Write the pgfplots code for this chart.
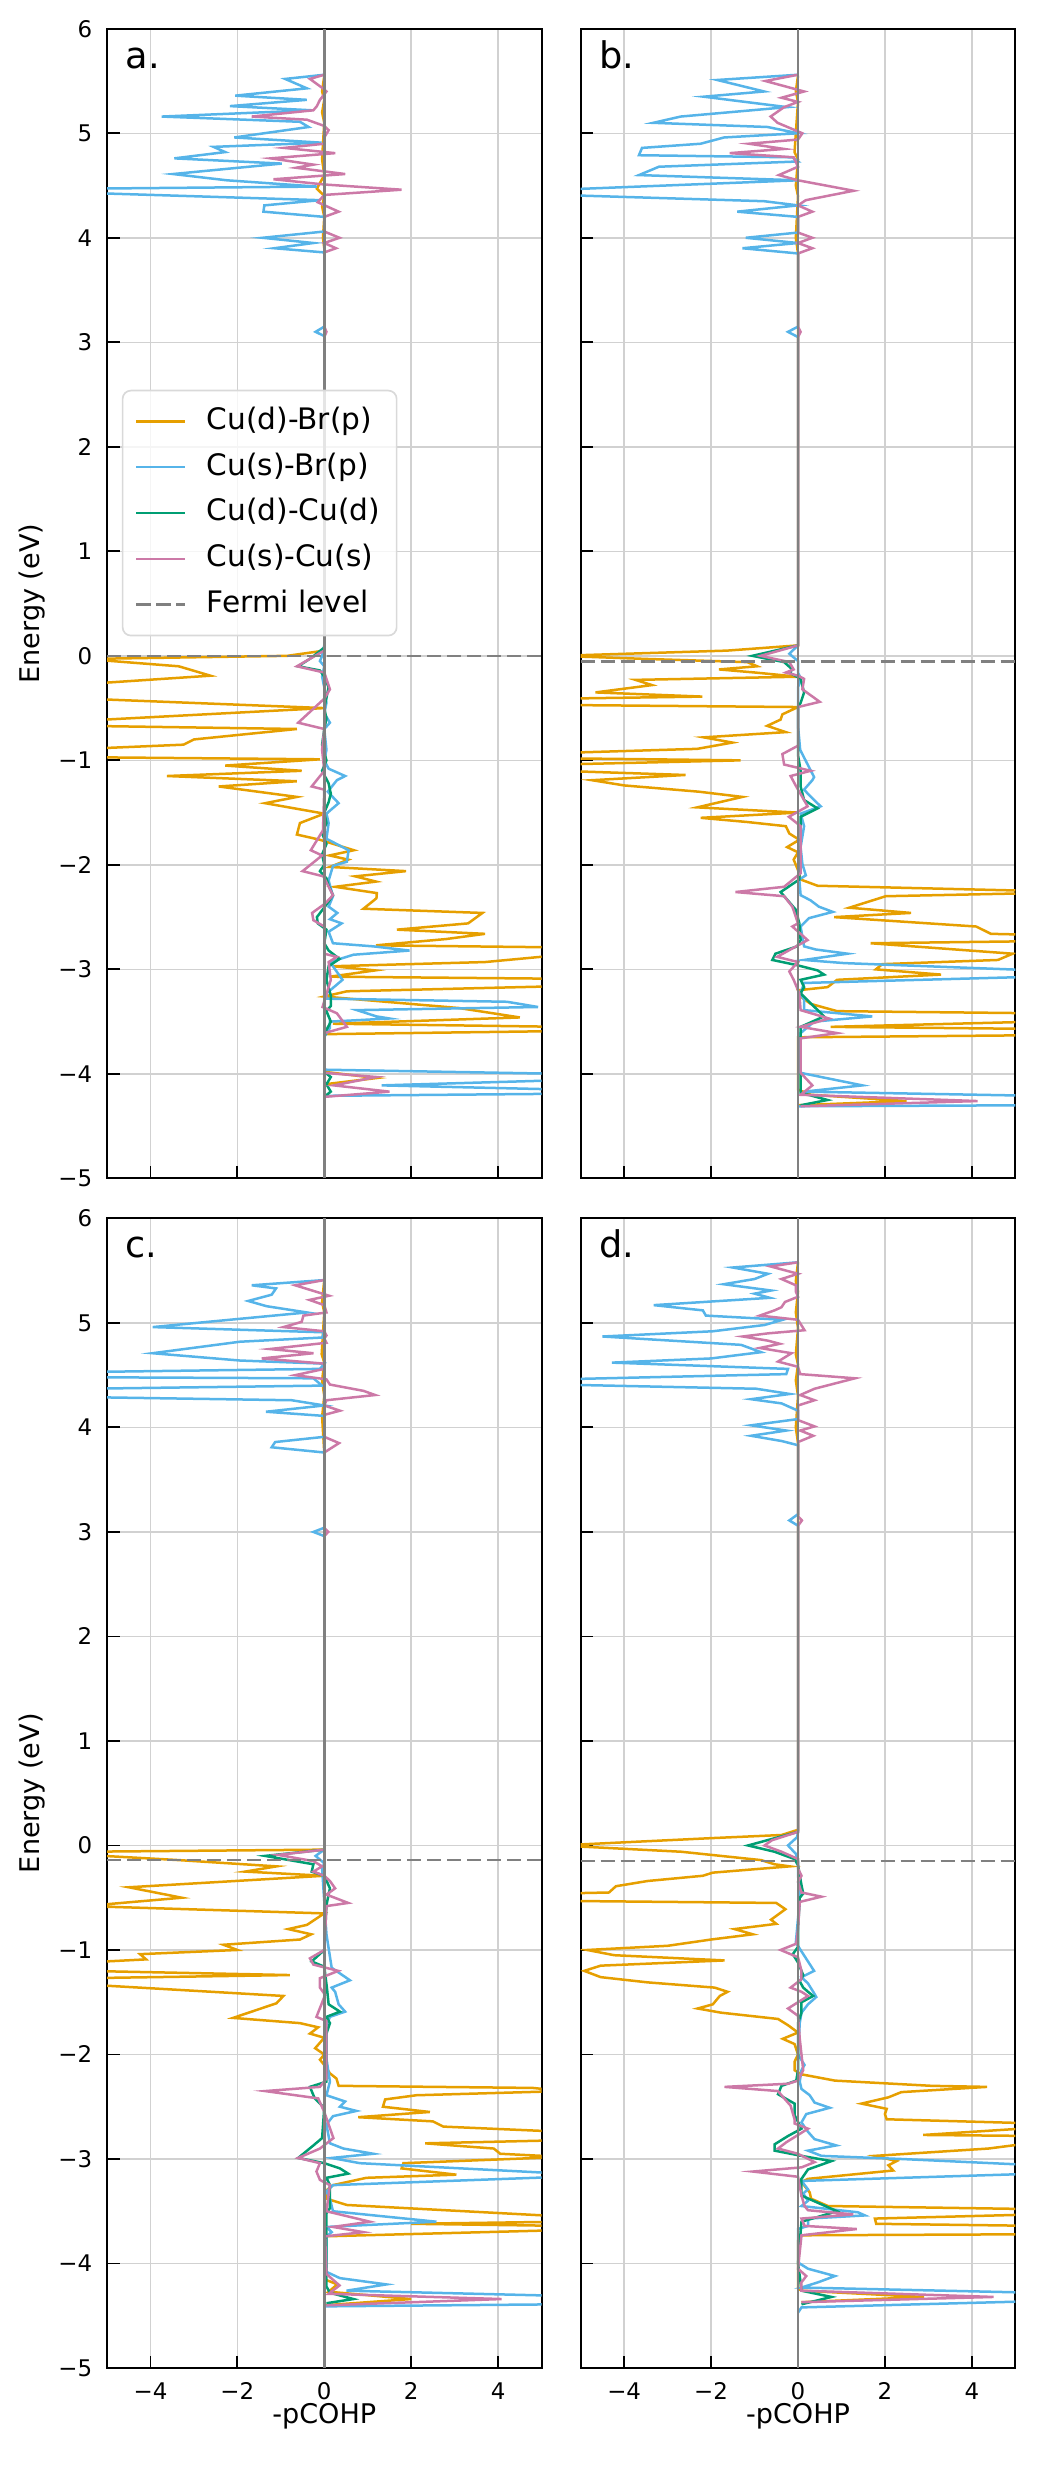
\documentclass[border=0pt]{standalone}
\usepackage{fontspec}
\setmainfont{DejaVu Sans}
\usepackage{pgfplots}
\pgfplotsset{compat=1.18}
\usepgfplotslibrary{groupplots}

\definecolor{cdbr}{HTML}{E69F00}
\definecolor{csbr}{HTML}{56B4E9}
\definecolor{cdcd}{HTML}{009E73}
\definecolor{cscs}{HTML}{CC79A7}

\pgfplotsset{
  cohp/.style={
    scale only axis, width=104.3pt, height=275.9pt,
    xmin=-5, xmax=5, ymin=-5, ymax=6,
    xtick={-4,-2,0,2,4}, ytick={-5,...,6},
    xtick pos=bottom, ytick pos=left, tick align=inside,
    major tick length=3pt,
    every tick/.style={black, line width=0.45pt},
    axis line style={line width=0.5pt},
    grid=major, grid style={line width=0.35pt, black!18},
    tick label style={font=\fontsize{5.5}{6.6}\selectfont},
    label style={font=\fontsize{6.5}{7.8}\selectfont},
    every axis plot/.append style={line width=0.6pt},
    legend image code/.code={\draw[#1] (0pt,0pt) -- (11.6pt,0pt);},
    ylabel style={at={(axis description cs:-0.173,0.5)}, anchor=center},
    xlabel style={at={(axis description cs:0.5,-0.0423)}, anchor=center},
  },
  xnums/.style={xticklabels={−4,−2,0,2,4}},
  xnone/.style={xticklabels={}},
  ynums/.style={yticklabels={−5,−4,−3,−2,−1,0,1,2,3,4,5,6}},
  ynone/.style={yticklabels={}},
  zeroline/.style={black!50, line width=0.7pt, forget plot},
  fermi/.style={black!50, dash pattern=on 3.4pt off 1.4pt, line width=0.6pt},
}
\newcommand{\plab}[1]{\node[anchor=base west, font=\fontsize{8.8}{10}\selectfont, inner sep=0pt] at (rel axis cs:0.041,0.9656) {#1};}

\begin{document}
\begin{tikzpicture}
\begin{groupplot}[group style={group size=2 by 2, horizontal sep=9.4pt, vertical sep=9.6pt}, cohp]

% ---------- a ----------
\nextgroupplot[xnone, ynums, ylabel={Energy (eV)},
  legend cell align=left,
  legend style={at={(0.034,0.686)}, anchor=north west, font=\fontsize{7.1}{8.5}\selectfont,
    draw=black!15, rounded corners=2pt, fill=white, fill opacity=0.8, text opacity=1,
    row sep=2.2pt, inner xsep=3pt, inner ysep=3pt,
    nodes={inner sep=1pt, text height=5.3pt, text depth=1.5pt},
    /tikz/every odd column/.append style={column sep=4pt}}]
\coordinate (tl) at (rel axis cs:0,1);
\addplot[cdbr] coordinates {
(0,5.55)(-0.05,5.4)(0,5.32)(-0.05,5.2)(0,5.1)(-0.03,4.9)(-0.05,4.75)(0,4.6)(-0.17,4.47)(0,4.4)(-0.05,4.3)(0,4.2)(-0.03,4.0)(0,3.9)
(0,0.05)(-0.85,0.0)(-5.5,-0.03)(-3.35,-0.1)(-2.62,-0.19)(-5.5,-0.27)(-5.5,-0.41)(0,-0.5)(-5.5,-0.62)(-5.5,-0.67)(-0.63,-0.7)(-3.0,-0.8)(-3.24,-0.85)(-5.5,-0.89)(-5.5,-0.97)(-0.1,-0.99)(-2.28,-1.05)(-0.52,-1.1)(-3.62,-1.15)(-0.63,-1.2)(-2.43,-1.25)(-0.63,-1.35)(-1.36,-1.41)(0,-1.51)(-0.56,-1.6)(-0.63,-1.71)(-0.1,-1.76)(0.68,-1.86)(0.12,-1.91)(0.55,-1.95)(0.13,-2.02)(1.88,-2.06)(0.71,-2.11)(1.19,-2.16)(0.25,-2.21)(1.21,-2.27)(1.2,-2.32)(0.9,-2.42)(3.64,-2.46)(3.31,-2.56)(1.67,-2.62)(3.7,-2.66)(2.8,-2.71)(1.19,-2.77)(5.5,-2.79)(5.5,-2.86)(3.7,-2.93)(0.2,-2.97)(1.17,-3.01)(0.13,-3.07)(5.5,-3.09)(5.5,-3.16)(0.52,-3.21)(0,-3.26)(3.1,-3.37)(4.5,-3.46)(0.2,-3.52)(5.5,-3.55)(5.5,-3.59)(0,-3.62)(0,-3.98)(1.2,-4.04)(0,-4.1)(0,-4.22)
};
\addlegendentry{Cu(d)-Br(p)}
\addplot[csbr] coordinates {
(0,5.56)(-0.9,5.52)(-0.4,5.43)(-2.05,5.36)(-0.4,5.32)(-2.17,5.26)(-0.29,5.22)(-3.74,5.16)(-0.56,5.11)(-0.36,5.06)(-2.07,4.96)(-0.06,4.91)(-2.55,4.87)(-2.28,4.82)(-3.45,4.76)(-0.98,4.71)(-3.48,4.61)(-2.24,4.55)(-0.17,4.49)(-5.5,4.47)(-5.5,4.43)(-0.1,4.36)(-1.38,4.31)(-1.4,4.25)(0,4.2)(0,4.06)(-1.42,4.0)(-0.25,3.95)(-1.15,3.9)(0,3.86)(0,3.15)(-0.2,3.1)(0,3.06)
(0,0.1)(-0.05,0.0)(-0.1,-0.05)(0,-0.1)(-0.05,-0.2)(0,-0.3)(0.05,-0.45)(0,-0.55)(0.13,-0.64)(0,-0.7)(0.05,-0.9)(0,-1.0)(0.1,-1.08)(0.48,-1.15)(0.29,-1.19)(0.08,-1.3)(0.33,-1.41)(0.05,-1.51)(0.1,-1.6)(0.05,-1.75)(0.56,-1.86)(0.52,-1.97)(0.2,-2.01)(0.1,-2.15)(0.2,-2.3)(0.1,-2.4)(0.3,-2.46)(0.13,-2.52)(0.4,-2.56)(0.1,-2.64)(0.2,-2.75)(1.13,-2.78)(1.96,-2.82)(0.67,-2.86)(0.13,-2.93)(0.42,-3.1)(0.05,-3.23)(0.05,-3.28)(4.2,-3.31)(4.92,-3.36)(0.75,-3.39)(1.2,-3.45)(1.5,-3.47)(0.13,-3.5)(0.13,-3.56)(0.05,-3.61)(0,-3.65)(0,-3.96)(5.5,-4.0)(5.5,-4.06)(1.32,-4.11)(5.5,-4.15)(5.5,-4.19)(0,-4.21)
};
\addlegendentry{Cu(s)-Br(p)}
\addplot[cdcd] coordinates {
(0,0.08)(-0.3,-0.02)(-0.6,-0.1)(-0.1,-0.14)(0,-0.2)(0.1,-0.3)(0.05,-0.4)(0,-0.5)(0.05,-0.6)(0,-0.7)(-0.05,-0.85)(0.05,-1.0)(-0.05,-1.1)(0.1,-1.22)(0.15,-1.32)(0.1,-1.4)(0,-1.5)(0.05,-1.6)(-0.05,-1.7)(0.05,-1.8)(-0.05,-1.9)(0,-2.0)(-0.1,-2.06)(0.05,-2.13)(0.1,-2.2)(0.2,-2.29)(0.05,-2.38)(-0.17,-2.5)(-0.15,-2.56)(0.05,-2.62)(0,-2.75)(0.1,-2.82)(0.35,-2.9)(0.1,-2.97)(0.05,-3.1)(0.15,-3.25)(0.15,-3.35)(0.05,-3.4)(0.15,-3.5)(0.05,-3.58)(0,-3.65)(0,-3.98)(0.15,-4.03)(0.05,-4.1)(0.15,-4.17)(0,-4.22)
};
\addlegendentry{Cu(d)-Cu(d)}
\addplot[cscs] coordinates {
(0,5.56)(-0.33,5.52)(0,5.42)(0.05,5.4)(-0.1,5.32)(-0.17,5.26)(-0.25,5.22)(-1.67,5.16)(-0.4,5.13)(0,5.07)(0.1,5.03)(0,4.96)(0,4.9)(-0.92,4.86)(0.25,4.81)(-1.23,4.76)(-0.25,4.7)(-0.65,4.67)(0.48,4.61)(-1.17,4.56)(0,4.51)(1.78,4.46)(0,4.41)(-0.15,4.34)(0.33,4.25)(0,4.2)(0,4.06)(0.35,4.0)(0,3.95)(0.27,3.9)(0,3.86)(0,3.15)(0.05,3.1)(0,3.05)
(0,0.05)(-0.63,-0.1)(0,-0.16)(0.13,-0.32)(0,-0.41)(-0.6,-0.64)(0,-0.7)(-0.05,-0.9)(0,-1.1)(-0.29,-1.25)(0,-1.28)(-0.03,-1.67)(-0.31,-1.86)(-0.05,-1.91)(-0.5,-2.06)(-0.02,-2.11)(0.2,-2.29)(0.02,-2.37)(-0.28,-2.46)(-0.25,-2.53)(0,-2.59)(0,-2.85)(0.29,-2.88)(0.1,-2.93)(0.15,-3.1)(-0.04,-3.36)(0.29,-3.42)(0.52,-3.55)(0,-3.61)(0,-3.99)(1.2,-4.03)(0.22,-4.11)(1.5,-4.17)(0,-4.22)
};
\addlegendentry{Cu(s)-Cu(s)}
\addplot[fermi] coordinates {(-5,0) (5,0)};
\addlegendentry{Fermi level}
\addplot[zeroline] coordinates {(0,-5) (0,6)};
\plab{a.}

% ---------- b ----------
\nextgroupplot[xnone, ynone]
\addplot[cdbr] coordinates {
(0,5.55)(-0.05,5.4)(0,5.3)(-0.05,5.0)(-0.08,4.82)(0,4.75)(-0.05,4.5)(0,4.4)(-0.05,4.0)(0,3.85)
(0,0.1)(-1.63,0.05)(-5.5,0.0)(-3.47,-0.03)(-1.17,-0.06)(-0.94,-0.1)(-1.82,-0.13)(-0.98,-0.16)(0,-0.2)(-3.74,-0.23)(-3.36,-0.28)(-4.66,-0.35)(-2.2,-0.39)(-5.5,-0.41)(-5.5,-0.47)(0,-0.49)(-0.36,-0.56)(-0.4,-0.61)(-0.71,-0.67)(-0.28,-0.73)(-2.17,-0.78)(-1.51,-0.83)(-2.32,-0.89)(-5.5,-0.93)(-5.5,-0.98)(-1.32,-1.0)(-5.5,-1.04)(-5.5,-1.1)(-2.59,-1.14)(-4.74,-1.19)(-4.0,-1.24)(-2.28,-1.3)(-1.28,-1.35)(-2.32,-1.45)(0,-1.5)(-2.24,-1.55)(-1.17,-1.59)(-0.28,-1.63)(-0.2,-1.7)(0.03,-1.76)(-0.25,-1.83)(0,-1.88)(-0.1,-1.95)(0,-2.05)(0.06,-2.14)(0.45,-2.2)(5.5,-2.25)(5.5,-2.27)(2.02,-2.3)(1.18,-2.41)(2.6,-2.46)(0.83,-2.5)(4.1,-2.59)(4.44,-2.66)(5.5,-2.67)(5.5,-2.73)(1.67,-2.75)(4.94,-2.85)(4.6,-2.91)(1.94,-2.95)(1.79,-3.0)(3.29,-3.05)(0.9,-3.1)(0.68,-3.17)(0,-3.2)(0.06,-3.26)(0.29,-3.33)(0.9,-3.4)(5.5,-3.42)(5.5,-3.5)(0.75,-3.55)(5.5,-3.57)(5.5,-3.63)(0,-3.65)(0,-4.15)(0.3,-4.2)(2.5,-4.26)(0,-4.3)
};
\addplot[csbr] coordinates {
(0,5.56)(-1.86,5.51)(-0.78,5.4)(-2.17,5.35)(-0.25,5.25)(-2.7,5.16)(-3.33,5.1)(-0.7,5.06)(0,5.0)(-1.7,4.96)(-2.24,4.9)(-3.59,4.86)(-3.66,4.79)(-0.13,4.77)(0,4.73)(-3.2,4.68)(-3.66,4.6)(0,4.55)(-5.5,4.46)(-5.5,4.41)(-0.78,4.35)(0,4.31)(-1.4,4.25)(0,4.2)(0,4.05)(-1.2,4.0)(0,3.95)(-1.28,3.9)(0,3.85)(0,3.15)(-0.23,3.1)(0,3.05)
(0,0.1)(-0.2,0.02)(0,-0.05)(0,-0.16)(0.07,-0.22)(0,-0.3)(0,-0.67)(0.05,-0.9)(0.37,-1.16)(0.33,-1.19)(0.14,-1.28)(0.25,-1.33)(0.52,-1.44)(0.06,-1.51)(0.14,-1.63)(0.06,-1.83)(0.1,-1.99)(0.18,-2.1)(0.03,-2.14)(0.06,-2.29)(0.29,-2.34)(0.48,-2.4)(0.8,-2.45)(0.25,-2.51)(0.06,-2.59)(0.14,-2.78)(0.41,-2.81)(1.14,-2.85)(0.14,-2.91)(1.06,-2.94)(5.5,-3.01)(5.5,-3.07)(0.14,-3.13)(0.06,-3.23)(0.14,-3.29)(0.14,-3.39)(1.71,-3.45)(0.37,-3.5)(0.06,-3.61)(0.06,-3.99)(1.48,-4.11)(0.14,-4.17)(5.5,-4.21)(5.5,-4.3)(0,-4.31)
};
\addplot[cdcd] coordinates {
(0,0.1)(-1.05,0.0)(-0.32,-0.06)(-0.13,-0.13)(-0.2,-0.16)(0.06,-0.22)(0.14,-0.35)(0.06,-0.45)(0,-0.49)(0,-0.95)(0.06,-1.1)(0.06,-1.25)(0.14,-1.38)(0.45,-1.46)(0.06,-1.54)(0.06,-1.83)(0.03,-2.14)(-0.4,-2.26)(-0.05,-2.43)(0.03,-2.56)(0.06,-2.72)(-0.02,-2.78)(-0.52,-2.85)(-0.59,-2.91)(-0.02,-2.96)(0.45,-3.01)(0.6,-3.05)(0.06,-3.1)(0.14,-3.17)(0.06,-3.23)(0.6,-3.45)(0.06,-3.55)(0.06,-4.18)(0.68,-4.25)(0.06,-4.3)
};
\addplot[cscs] coordinates {
(0,5.56)(-0.75,5.5)(0.14,5.4)(-0.38,5.34)(0,5.3)(-0.32,5.25)(-0.63,5.16)(-0.47,5.1)(0.1,5.0)(0,4.94)(-1.13,4.9)(-0.32,4.85)(-1.57,4.81)(-0.1,4.77)(0,4.68)(-0.44,4.6)(0,4.55)(1.28,4.45)(0.18,4.36)(0,4.31)(0.33,4.25)(0,4.2)(0,4.05)(0.33,4.0)(0,3.95)(0.33,3.9)(0,3.85)(0,3.15)(0.06,3.1)(0,3.05)
(0,0.1)(-0.86,0.0)(-0.2,-0.06)(-0.1,-0.13)(-0.28,-0.16)(0,-0.19)(0.14,-0.22)(0.1,-0.32)(0.5,-0.44)(0,-0.49)(0,-0.86)(-0.36,-0.94)(-0.32,-1.04)(0.29,-1.1)(-0.17,-1.15)(-0.08,-1.22)(0,-1.28)(0.14,-1.38)(0.22,-1.44)(-0.21,-1.54)(0.06,-1.63)(0.06,-2.08)(-0.32,-2.21)(-1.44,-2.26)(-0.32,-2.3)(-0.13,-2.4)(0,-2.56)(-0.13,-2.59)(0.14,-2.69)(0.22,-2.72)(0,-2.77)(-0.48,-2.88)(0,-2.93)(-0.2,-3.02)(-0.1,-3.1)(0.03,-3.23)(0.06,-3.39)(0.71,-3.47)(0.06,-3.55)(0.9,-3.61)(0.06,-3.66)(0.06,-3.99)(0.33,-4.11)(0.06,-4.2)(4.13,-4.26)(0.06,-4.31)
};
\addplot[fermi] coordinates {(-5,-0.054) (5,-0.054)};
\addplot[zeroline] coordinates {(0,-5) (0,6)};
\plab{b.}

% ---------- c ----------
\nextgroupplot[xnums, ynums, ylabel={Energy (eV)}, xlabel={-pCOHP}]
\addplot[cdbr] coordinates {
(0,5.41)(-0.05,5.2)(0,5.1)(-0.03,4.9)(-0.06,4.7)(0,4.62)(-0.05,4.45)(0,4.3)(-0.05,4.1)(0,3.76)
(0,-0.04)(-5.5,-0.06)(-5.5,-0.09)(-3.35,-0.14)(-1.1,-0.2)(-1.82,-0.25)(0,-0.29)(-4.5,-0.4)(-3.28,-0.5)(-5.5,-0.58)(0,-0.65)(-0.4,-0.76)(-0.83,-0.8)(-0.3,-0.85)(-0.56,-0.9)(-2.32,-0.95)(-2.0,-1.0)(-4.24,-1.04)(-4.1,-1.09)(-5.5,-1.12)(-5.5,-1.2)(-0.79,-1.24)(-5.5,-1.27)(-5.5,-1.33)(-0.94,-1.44)(-1.1,-1.51)(-2.1,-1.65)(-0.56,-1.7)(-0.14,-1.74)(-0.33,-1.8)(0,-1.84)(-0.21,-1.94)(0,-2.0)(-0.1,-2.05)(0,-2.1)(0.13,-2.18)(0.28,-2.23)(0.33,-2.3)(4.8,-2.32)(5.5,-2.35)(2.12,-2.39)(1.4,-2.43)(1.35,-2.5)(2.43,-2.55)(0.78,-2.6)(2.5,-2.64)(2.74,-2.69)(5.5,-2.74)(5.5,-2.82)(2.32,-2.85)(3.9,-2.9)(4.05,-2.95)(5.5,-2.98)(1.82,-3.04)(1.78,-3.09)(3.04,-3.15)(0.97,-3.18)(0.2,-3.25)(0.05,-3.3)(0.05,-3.38)(0.52,-3.44)(5.5,-3.55)(5.5,-3.6)(2.0,-3.62)(5.5,-3.64)(5.5,-3.68)(0,-3.74)(0,-4.15)(0.3,-4.2)(0.1,-4.27)(2.0,-4.34)(0,-4.4)
};
\addplot[csbr] coordinates {
(0,5.41)(-1.67,5.36)(-1.11,5.33)(-1.21,5.27)(-1.75,5.21)(-1.33,5.16)(-0.4,5.1)(-3.95,4.96)(0,4.91)(-0.05,4.86)(-1.94,4.82)(-3.95,4.71)(-1.94,4.64)(0,4.61)(-0.1,4.56)(-5.5,4.53)(-5.5,4.48)(-0.25,4.47)(-0.05,4.4)(-5.5,4.37)(-5.5,4.29)(-0.75,4.26)(0,4.21)(-1.34,4.15)(0,4.11)(0,3.91)(-1.13,3.86)(-1.21,3.81)(0,3.76)(0,3.04)(-0.25,3.0)(0,2.96)
(0,-0.04)(-0.2,-0.1)(0,-0.17)(-0.05,-0.22)(0.05,-0.85)(0.17,-1.17)(0.59,-1.29)(0.17,-1.36)(0.25,-1.4)(0.33,-1.52)(0.48,-1.59)(0.13,-1.64)(0.05,-1.72)(0.05,-2.04)(0.13,-2.26)(0.05,-2.39)(0.48,-2.45)(0.36,-2.5)(0.74,-2.54)(0.2,-2.59)(0.05,-2.67)(0.13,-2.85)(0.44,-2.9)(1.13,-2.95)(0.17,-2.99)(0.82,-3.04)(5.5,-3.14)(5.5,-3.17)(0.2,-3.25)(0.05,-3.31)(0.13,-3.38)(0.2,-3.5)(2.58,-3.6)(0.05,-3.65)(0.17,-3.7)(0.05,-3.74)(0.05,-4.08)(0.36,-4.14)(1.43,-4.2)(0.51,-4.26)(5.5,-4.31)(5.5,-4.39)(0,-4.41)
};
\addplot[cdcd] coordinates {
(0,-0.04)(-1.36,-0.1)(-0.25,-0.18)(-0.29,-0.25)(0,-0.29)(0.13,-0.41)(0.05,-0.57)(0,-1.0)(-0.29,-1.11)(0,-1.16)(0.06,-1.36)(0.1,-1.52)(0.36,-1.59)(0.05,-1.64)(0.13,-1.7)(0.05,-1.8)(0.05,-2.26)(-0.33,-2.31)(-0.22,-2.42)(0,-2.51)(-0.05,-2.8)(-0.25,-2.87)(-0.6,-2.99)(0,-3.04)(0.36,-3.09)(0.55,-3.14)(0.05,-3.18)(0.13,-3.25)(0.13,-3.47)(0.05,-3.52)(0.05,-4.22)(0.13,-4.28)(0.67,-4.34)(0.05,-4.38)
};
\addplot[cscs] coordinates {
(0,5.41)(-0.67,5.36)(0.11,5.26)(-0.34,5.22)(0,5.17)(0.05,5.1)(-0.48,5.07)(-0.52,5.01)(-0.94,4.96)(0,4.92)(0.05,4.88)(0,4.85)(0.05,4.81)(-1.25,4.75)(-0.25,4.71)(-1.44,4.66)(0,4.61)(0,4.56)(-0.67,4.5)(0.05,4.46)(0.13,4.41)(0.9,4.35)(1.17,4.31)(0.05,4.26)(0,4.21)(0.36,4.16)(0,4.12)(0,3.91)(0.34,3.85)(0,3.76)(0,3.04)(0.09,3.0)(0,2.96)
(0,-0.04)(-1.06,-0.09)(-0.25,-0.15)(-0.05,-0.2)(-0.25,-0.25)(0,-0.29)(0.13,-0.34)(0.25,-0.41)(0.05,-0.47)(0.55,-0.55)(0.05,-0.58)(0,-1.0)(-0.33,-1.08)(-0.25,-1.14)(0.32,-1.2)(-0.1,-1.27)(-0.1,-1.36)(0.02,-1.43)(-0.18,-1.64)(0.05,-1.68)(0.05,-2.23)(-0.1,-2.31)(-1.36,-2.35)(-0.14,-2.42)(0,-2.55)(0.21,-2.8)(-0.1,-2.9)(-0.6,-2.99)(-0.1,-3.04)(-0.18,-3.12)(-0.1,-3.2)(0.13,-3.25)(0.05,-3.5)(1.05,-3.6)(0.2,-3.65)(0.9,-3.7)(0.02,-3.74)(0.05,-4.1)(0.35,-4.21)(0.1,-4.29)(4.08,-4.34)(0.05,-4.4)
};
\addplot[fermi] coordinates {(-5,-0.14) (5,-0.14)};
\addplot[zeroline] coordinates {(0,-5) (0,6)};
\plab{c.}

% ---------- d ----------
\nextgroupplot[xnums, ynone, xlabel={-pCOHP}]
\addplot[cdbr] coordinates {
(0,5.58)(-0.05,5.4)(0,5.3)(-0.05,5.1)(0,4.95)(-0.05,4.7)(0,4.6)(-0.05,4.45)(0,4.3)(-0.05,4.0)(0,3.85)
(0,0.15)(-0.38,0.1)(-2.0,0.07)(-5.5,0.0)(-2.69,-0.06)(-0.85,-0.14)(-0.54,-0.18)(-0.19,-0.2)(-1.96,-0.26)(-2.19,-0.29)(-3.46,-0.34)(-4.19,-0.39)(-4.35,-0.45)(-5.5,-0.46)(-5.5,-0.53)(-0.5,-0.55)(-0.29,-0.61)(-0.62,-0.71)(-0.5,-0.75)(-1.46,-0.8)(-1.04,-0.85)(-2.0,-0.9)(-3.0,-0.96)(-4.85,-1.0)(-4.23,-1.05)(-1.69,-1.1)(-4.54,-1.15)(-4.92,-1.2)(-4.54,-1.26)(-3.46,-1.31)(-1.92,-1.36)(-1.62,-1.4)(-1.8,-1.44)(-1.96,-1.52)(-2.31,-1.56)(-1.77,-1.6)(-0.46,-1.66)(-0.23,-1.72)(0,-1.79)(-0.35,-1.85)(-0.08,-1.9)(0,-2.0)(-0.08,-2.07)(-0.08,-2.15)(0.08,-2.19)(0.85,-2.25)(3.08,-2.3)(4.35,-2.31)(2.38,-2.36)(2.08,-2.41)(1.46,-2.47)(2.04,-2.52)(2.0,-2.57)(2.04,-2.62)(5.5,-2.66)(5.5,-2.7)(2.88,-2.77)(5.5,-2.78)(5.5,-2.84)(4.38,-2.9)(1.77,-2.97)(2.27,-3.02)(2.08,-3.06)(2.19,-3.11)(0.23,-3.19)(0.08,-3.22)(0.27,-3.32)(0.3,-3.38)(0.69,-3.45)(5.5,-3.48)(5.5,-3.53)(1.77,-3.57)(1.8,-3.62)(5.5,-3.64)(5.5,-3.72)(0.08,-3.73)(0,-3.78)(0,-4.24)(0.08,-4.26)(2.9,-4.32)(0.08,-4.37)
};
\addplot[csbr] coordinates {
(0,5.58)(-1.5,5.53)(-0.69,5.47)(-1.0,5.42)(-1.71,5.37)(-0.62,5.31)(-1.0,5.28)(-0.65,5.24)(-3.32,5.17)(-2.19,5.12)(-2.12,5.07)(-0.35,5.03)(-0.77,4.98)(-1.96,4.92)(-4.5,4.87)(-1.31,4.79)(-0.85,4.72)(-2.0,4.66)(-4.28,4.62)(-0.23,4.56)(-0.27,4.51)(-5.5,4.46)(-5.5,4.41)(-0.96,4.37)(-0.19,4.32)(-1.08,4.27)(-0.38,4.23)(0,4.16)(0,4.08)(-1.08,4.02)(-0.27,3.97)(-1.08,3.92)(-0.38,3.87)(0,3.83)(0,3.17)(-0.2,3.11)(0,3.06)
(0,0.13)(-0.02,0.08)(-0.23,0.0)(-0.05,-0.08)(0,-0.15)(0,-0.29)(0.05,-0.45)(0,-0.7)(-0.05,-0.93)(0.37,-1.2)(0.08,-1.26)(0.23,-1.32)(0.38,-1.42)(0.42,-1.45)(0.23,-1.52)(0.08,-1.6)(0.04,-1.7)(0,-2.0)(0.15,-2.1)(0.08,-2.15)(0.04,-2.26)(0.08,-2.33)(0.27,-2.39)(0.38,-2.46)(0.73,-2.51)(0.19,-2.57)(0.08,-2.65)(0.23,-2.74)(0.38,-2.81)(0.88,-2.87)(0.23,-2.92)(0.54,-2.97)(2.38,-3.0)(5.5,-3.06)(5.5,-3.14)(0.08,-3.21)(0.23,-3.29)(0.12,-3.33)(0.23,-3.4)(0.08,-3.45)(1.38,-3.51)(1.54,-3.54)(0.23,-3.57)(0.23,-3.64)(0,-3.67)(0,-3.99)(0.23,-4.05)(0.85,-4.12)(0.46,-4.18)(0.08,-4.23)(5.5,-4.28)(5.5,-4.36)(0.08,-4.42)(0,-4.47)
};
\addplot[cdcd] coordinates {
(0,0.13)(-1.15,0.0)(-0.54,-0.06)(-0.08,-0.13)(0,-0.19)(0.08,-0.38)(0.12,-0.46)(0.04,-0.5)(0,-0.8)(0,-0.97)(-0.12,-1.04)(0,-1.12)(0.12,-1.24)(0.04,-1.3)(0.12,-1.36)(0.23,-1.4)(0.35,-1.44)(0.08,-1.5)(0.08,-1.6)(0,-1.7)(0,-2.15)(-0.04,-2.25)(-0.38,-2.3)(-0.46,-2.38)(-0.08,-2.47)(-0.08,-2.58)(0.08,-2.71)(-0.23,-2.78)(-0.54,-2.86)(-0.54,-2.92)(0.08,-2.97)(0.77,-3.02)(0.23,-3.1)(0.08,-3.19)(0.08,-3.35)(0.9,-3.5)(0.08,-3.6)(0,-4.0)(0.05,-4.15)(0.08,-4.26)(0.77,-4.32)(0.08,-4.39)
};
\addplot[cscs] coordinates {
(0,5.58)(-0.63,5.54)(0,5.47)(-0.38,5.42)(-0.05,5.36)(-0.05,5.3)(0,5.25)(-0.3,5.2)(-0.38,5.15)(-0.54,5.12)(-0.88,5.07)(0,5.03)(0.15,4.93)(-0.69,4.9)(-1.27,4.87)(-0.69,4.83)(-0.42,4.8)(-0.88,4.76)(-0.15,4.71)(-0.46,4.63)(0,4.58)(0.05,4.51)(1.31,4.47)(0.38,4.37)(0.05,4.31)(0.38,4.26)(0,4.21)(0,4.07)(0.38,4.01)(0.05,3.97)(0.35,3.92)(0,3.86)(0,3.15)(0.09,3.11)(0,3.06)
(0,0.13)(-0.6,0.05)(-0.77,0.0)(-0.38,-0.06)(0,-0.13)(0,-0.22)(0.08,-0.29)(0,-0.35)(0.08,-0.45)(0.54,-0.49)(0.04,-0.54)(0,-0.8)(-0.04,-0.94)(-0.4,-1.0)(0,-1.07)(0.08,-1.2)(0.08,-1.28)(-0.17,-1.36)(0.08,-1.4)(0.23,-1.44)(0,-1.5)(-0.23,-1.56)(0,-1.63)(0.04,-1.85)(0.12,-2.15)(0,-2.25)(-0.23,-2.28)(-1.69,-2.31)(-0.46,-2.35)(-0.38,-2.39)(-0.17,-2.49)(-0.08,-2.62)(-0.08,-2.66)(0.23,-2.71)(0,-2.77)(-0.27,-2.84)(-0.46,-2.9)(0,-2.95)(0.38,-3.03)(0.08,-3.08)(-1.04,-3.12)(0,-3.17)(0.08,-3.35)(0.15,-3.45)(0.23,-3.49)(1.27,-3.53)(0.08,-3.57)(0.15,-3.64)(1.35,-3.67)(0.08,-3.73)(0,-4.05)(0.19,-4.12)(0.08,-4.18)(0.08,-4.26)(4.5,-4.32)(0.08,-4.37)
};
\addplot[fermi] coordinates {(-5,-0.15) (5,-0.15)};
\addplot[zeroline] coordinates {(0,-5) (0,6)};
\plab{d.}
\end{groupplot}
\pgfresetboundingbox
\path[use as bounding box] (tl) ++(-25.68pt,6.91pt) rectangle ++(248.88pt,-593.76pt);
\end{tikzpicture}
\end{document}
